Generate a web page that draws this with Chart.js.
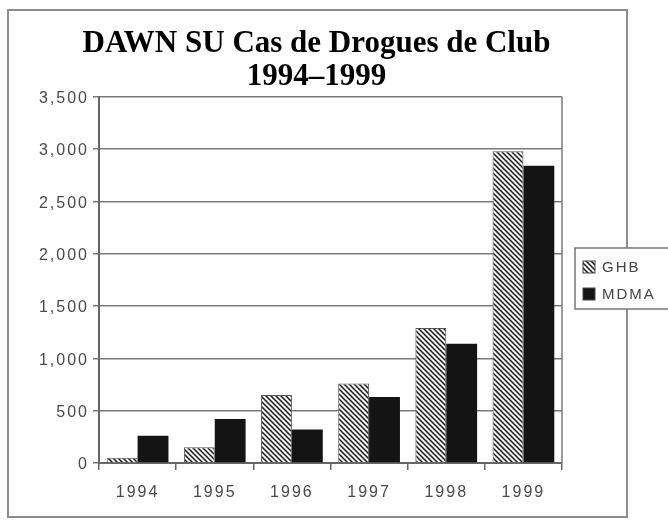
<!DOCTYPE html>
<html>
<head>
<meta charset="utf-8">
<title>DAWN SU Cas de Drogues de Club</title>
<script src="https://cdn.jsdelivr.net/npm/chart.js@4.4.1/dist/chart.umd.min.js"></script>
<style>
  html, body { margin: 0; padding: 0; background: #fff; }
  #wrap { width: 668px; height: 521px; }
</style>
</head>
<body>
<div id="wrap"><canvas id="chart" width="668" height="521"></canvas></div>
<script>
// ---- data ----
const titleLines = ["DAWN SU Cas de Drogues de Club", "1994–1999"];
const years = ["1994", "1995", "1996", "1997", "1998", "1999"];
const ghbCases = [50, 150, 650, 760, 1290, 2980];
const mdmaCases = [260, 420, 320, 630, 1140, 2840];
const yTicks = [0, 500, 1000, 1500, 2000, 2500, 3000, 3500];

const sansFamily = "'Liberation Sans', Arial, sans-serif";
const axisFont = { family: sansFamily, size: 16 };
const canvas = document.getElementById("chart");
const ctx = canvas.getContext("2d");

// diagonal hatch used for GHB bars
function makeHatch() {
  const c = document.createElement("canvas");
  c.width = 5;
  c.height = 5;
  const g = c.getContext("2d");
  g.fillStyle = "#f4f4f4";
  g.fillRect(0, 0, 5, 5);
  g.strokeStyle = "#1a1a1a";
  g.lineWidth = 1.5;
  g.beginPath();
  g.moveTo(-1, -1); g.lineTo(6, 6);
  g.moveTo(-1, 4); g.lineTo(1, 6);
  g.moveTo(4, -1); g.lineTo(6, 1);
  g.stroke();
  return ctx.createPattern(c, "repeat");
}
const hatch = makeHatch();

// the old chart uses loosely spaced axis text
const spacedLabels = {
  id: "spacedLabels",
  beforeDraw(chart) {
    ["x", "y"].forEach((id) => {
      const s = chart.scales[id];
      if (!s || s._spaced) return;
      const orig = s.drawLabels;
      s.drawLabels = function (area) {
        this.ctx.save();
        this.ctx.letterSpacing = "2px";
        orig.call(this, area);
        this.ctx.restore();
      };
      s._spaced = true;
    });
  },
};

// outer frame, right edge of plot, boxed legend
const framePlugin = {
  id: "frame",
  beforeDraw(chart) {
    const c = chart.ctx;
    c.save();
    c.fillStyle = "#fff";
    c.fillRect(0, 0, chart.width, chart.height);
    c.strokeStyle = "#8c8c8c";
    c.lineWidth = 2;
    c.strokeRect(8, 10, 619, 507);
    c.restore();
  },
  afterDraw(chart) {
    const c = chart.ctx;
    const a = chart.chartArea;
    c.save();
    c.strokeStyle = "#7a7a7a";
    c.lineWidth = 1.5;
    c.beginPath();
    c.moveTo(a.right, a.top);
    c.lineTo(a.right, a.bottom);
    c.stroke();

    // legend
    c.fillStyle = "#fff";
    c.fillRect(575, 248, 100, 61);
    c.strokeStyle = "#777";
    c.lineWidth = 1.5;
    c.strokeRect(575, 248, 100, 61);
    c.font = "15px " + sansFamily;
    c.letterSpacing = "2px";
    c.textBaseline = "middle";
    chart.data.datasets.forEach((ds, i) => {
      const y = 267 + i * 27;
      c.fillStyle = ds.backgroundColor;
      c.fillRect(583, y - 6, 12, 12);
      c.strokeStyle = "#444";
      c.lineWidth = 1;
      c.strokeRect(583, y - 6, 12, 12);
      c.fillStyle = "#444";
      c.fillText(ds.label, 602, y + 1);
    });
    c.restore();
  },
};

new Chart(canvas, {
  type: "bar",
  data: {
    labels: years,
    datasets: [
      {
        label: "GHB",
        data: ghbCases,
        backgroundColor: hatch,
        borderColor: "#555",
        borderWidth: 1,
        barPercentage: 1,
        categoryPercentage: 0.8,
      },
      {
        label: "MDMA",
        data: mdmaCases,
        backgroundColor: "#141414",
        borderWidth: 0,
        barPercentage: 1,
        categoryPercentage: 0.8,
      },
    ],
  },
  options: {
    responsive: false,
    animation: false,
    devicePixelRatio: 1,
    layout: { padding: { left: 8, right: 43, top: 0, bottom: 0 } },
    plugins: {
      legend: { display: false },
      tooltip: { enabled: false },
      title: {
        display: true,
        text: titleLines,
        color: "#000",
        font: { family: "'Liberation Serif', 'Times New Roman', serif", size: 31, weight: "bold", lineHeight: 1.06 },
        padding: { top: 28, bottom: 3 },
      },
    },
    scales: {
      x: {
        grid: { offset: true, drawOnChartArea: false, drawTicks: true, tickLength: 7, color: "#666", lineWidth: 1.5 },
        border: { display: true, color: "#666", width: 2 },
        ticks: { color: "#4a4a4a", font: axisFont, padding: 13 },
        afterFit: (s) => { s.height = 58; },
      },
      y: {
        min: 0,
        max: 3500,
        afterBuildTicks: (s) => { s.ticks = yTicks.map((v) => ({ value: v })); },
        grid: { color: "#7a7a7a", lineWidth: 1.5, tickLength: 6 },
        border: { display: true, color: "#666", width: 2 },
        ticks: { color: "#4a4a4a", font: axisFont, padding: 4, labelOffset: 2, callback: (v) => v.toLocaleString("en-US") },
        afterFit: (s) => { s.width = 91; },
      },
      spacer: {
        type: "linear",
        position: "right",
        display: true,
        grid: { display: false },
        border: { display: false },
        ticks: { display: false },
        afterFit: (s) => { s.width = 63; },
      },
    },
  },
  plugins: [spacedLabels, framePlugin],
});
</script>
</body>
</html>
